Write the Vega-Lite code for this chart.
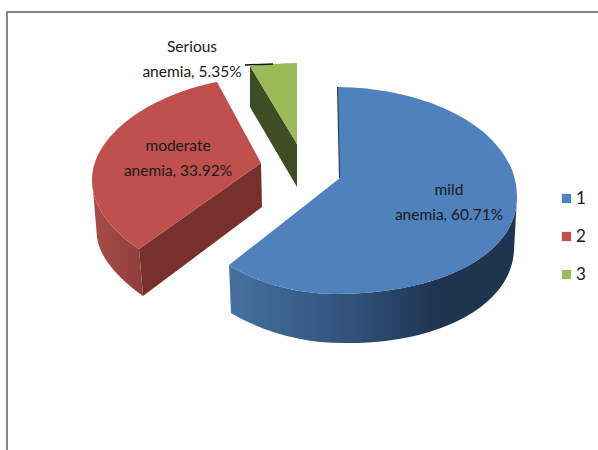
{
"$schema":"https://vega.github.io/schema/vega-lite/v6.json",
"width":598,"height":450,"padding":0,
"autosize":{"type":"none"},
"background":"white",
"view":{"stroke":null},
"resolve":{"scale":{"fill":"shared"},"legend":{"fill":"independent"}},
"data":{"values":[
{"category":"1","name":"mild anemia","percent":60.71,"label":"mild\nanemia, 60.71%"},
{"category":"2","name":"moderate anemia","percent":33.92,"label":"moderate\nanemia, 33.92%"},
{"category":"3","name":"Serious anemia","percent":5.35,"label":"Serious\nanemia, 5.35%"}
]},
"layer":[
{"transform":[{"filter":"datum.category==='1'"}],
 "mark":{"type":"point","size":4,"filled":false,"fill":null,"stroke":"#868686","strokeWidth":2,"opacity":1,"shape":"M-292 225 V-213 H299"}},
{"transform":[{"filter":"datum.category==='1'"}],
 "mark":{"type":"point","size":4,"filled":true,"opacity":1,"shape":"M218 -28 C218 30 141 69 36 69 C-4 69 -44 57 -70 40 L-68 88 C-34 108 6 119 51 118 C141 118 213 80 215 25 Z",
 "fill":{"gradient":"linear","x1":0,"y1":0,"x2":1,"y2":0,"stops":[{"offset":0,"color":"#47719f"},{"offset":0.45,"color":"#2f4f78"},{"offset":0.72,"color":"#1f344f"},{"offset":1,"color":"#1f344f"}]}}},
{"transform":[{"filter":"datum.category==='1'"}],
 "mark":{"type":"point","size":4,"filled":true,"opacity":1,"fill":"#1f344f","shape":"M38 -138 L40 -138 L42 -47 L40 -47 Z"}},
{"transform":[{"filter":"datum.category==='2'"}],
 "mark":{"type":"point","size":4,"filled":true,"opacity":1,"fill":"#78302f","shape":"M-38 -62 L-160 24 L-156 71 L-37 -18 Z"}},
{"transform":[{"filter":"datum.category==='2'"}],
 "mark":{"type":"point","size":4,"filled":true,"opacity":1,"shape":"M-207 -45 C-207 -20 -189 5 -160 24 L-156 71 C-178 55 -199 35 -202 12 L-206 -35 Z",
 "fill":{"gradient":"linear","x1":0,"y1":0,"x2":1,"y2":0,"stops":[{"offset":0,"color":"#a84c49"},{"offset":1,"color":"#8e3e3c"}]}}},
{"transform":[{"filter":"datum.category==='3'"}],
 "mark":{"type":"point","size":4,"filled":true,"opacity":1,"fill":"#3f4d24","shape":"M-49 -159 L-2 -81 L-2 -38 L-49 -118 Z"}},
{"mark":{"type":"point","size":4,"filled":true,"opacity":1},
 "encoding":{
  "shape":{"field":"category","type":"nominal","legend":null,"scale":{"domain":["1","2","3"],"range":[
   "M39 -138 C131 -137 218 -95 218 -28 C218 30 141 69 36 69 C-4 69 -44 57 -70 40 L41 -47 Z",
   "M-82 -143 L-38 -62 L-160 24 C-189 5 -207 -20 -207 -45 C-207 -90 -149 -130 -82 -143 Z",
   "M-49 -159 C-34 -160 -17 -162 -2 -162 L-2 -81 Z"]}},
  "fill":{"field":"category","type":"nominal","legend":null,
   "scale":{"domain":["1","2","3"],"range":["#4f81bd","#c0504d","#9bbb59"]}}
 }},
{"mark":{"type":"square","size":0,"opacity":1},
 "encoding":{
  "fill":{"field":"category","type":"nominal","title":null,
   "scale":{"domain":["1","2","3"],"range":["#4f81bd","#c0504d","#9bbb59"]},
   "legend":{"orient":"none","legendX":558,"legendY":190,"symbolType":"square","symbolSize":85,"symbolStrokeWidth":0,"symbolOpacity":1,"labelFont":"Lato","labelFontSize":17,"labelColor":"#1a1a1a","rowPadding":20,"labelOffset":1,"title":null}}
 }},
{"transform":[{"filter":"datum.category==='3'"}],
 "mark":{"type":"point","size":4,"filled":false,"fill":null,"stroke":"#111111","strokeWidth":1.5,"opacity":1,"shape":"M-54 -160 L-26 -161"}},
{"mark":{"type":"text","font":"Lato","fontSize":15.5,"color":"#1a1a1a","lineBreak":"\n","lineHeight":25,"align":"center","baseline":"middle"},
 "encoding":{
  "text":{"field":"label"},
  "x":{"field":"percent","type":"quantitative","axis":null,"scale":{"domain":[5.35,33.92,60.71],"range":[192,178,449],"zero":false,"nice":false}},
  "y":{"field":"percent","type":"quantitative","axis":null,"scale":{"domain":[5.35,33.92,60.71],"range":[47,146,190],"zero":false,"nice":false}}
 }}
]
}
